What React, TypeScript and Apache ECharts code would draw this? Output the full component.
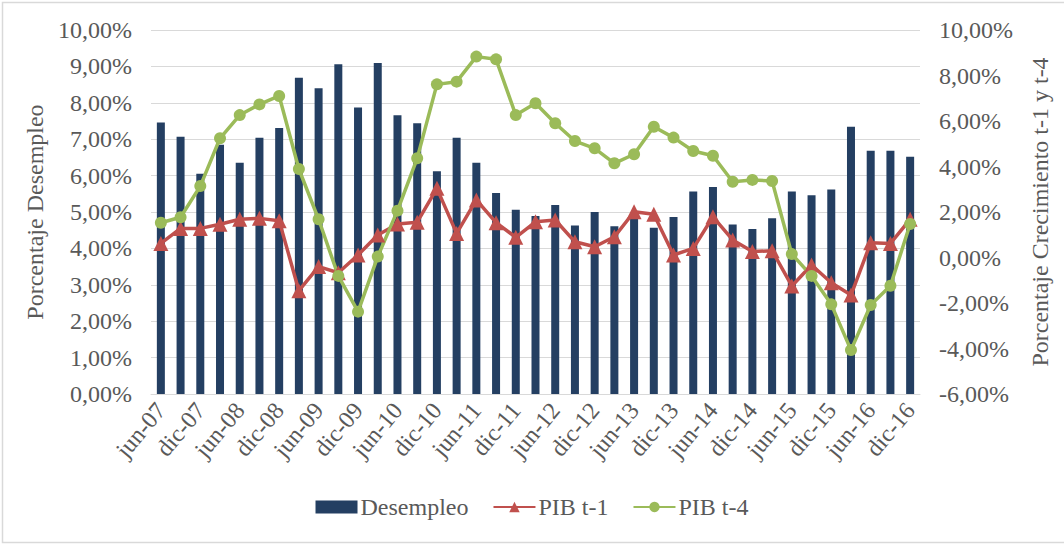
import React, { useEffect, useRef } from "react";
import * as echarts from "echarts";

const categories = [
  "jun-07", "sep-07", "dic-07", "mar-08", "jun-08", "sep-08", "dic-08", "mar-09",
  "jun-09", "sep-09", "dic-09", "mar-10", "jun-10", "sep-10", "dic-10", "mar-11",
  "jun-11", "sep-11", "dic-11", "mar-12", "jun-12", "sep-12", "dic-12", "mar-13",
  "jun-13", "sep-13", "dic-13", "mar-14", "jun-14", "sep-14", "dic-14", "mar-15",
  "jun-15", "sep-15", "dic-15", "mar-16", "jun-16", "sep-16", "dic-16",
];

const desempleo = [
  7.46, 7.07, 6.05, 6.85, 6.35, 7.04, 7.31, 8.69, 8.40, 9.06,
  7.87, 9.09, 7.66, 7.44, 6.12, 7.04, 6.35, 5.52, 5.06, 4.89,
  5.19, 4.63, 5.00, 4.61, 4.95, 4.57, 4.86, 5.56, 5.69, 4.66,
  4.53, 4.83, 5.56, 5.46, 5.62, 7.34, 6.68, 6.68, 6.52,
];

const pibT1 = [
  0.62, 1.28, 1.28, 1.46, 1.68, 1.72, 1.62, -1.46, -0.40, -0.67,
  0.11, 0.99, 1.47, 1.55, 3.04, 1.06, 2.53, 1.53, 0.89, 1.57,
  1.65, 0.69, 0.47, 0.91, 2.01, 1.90, 0.11, 0.40, 1.79, 0.77,
  0.26, 0.30, -1.25, -0.33, -1.11, -1.65, 0.65, 0.62, 1.68,
];

const pibT4 = [
  1.53, 1.77, 3.14, 5.24, 6.26, 6.73, 7.10, 3.89, 1.68, -0.81,
  -2.38, 0.04, 2.06, 4.36, 7.61, 7.73, 8.83, 8.71, 6.26, 6.78,
  5.90, 5.12, 4.80, 4.14, 4.54, 5.75, 5.27, 4.68, 4.47, 3.33,
  3.41, 3.36, 0.15, -0.81, -2.06, -4.07, -2.09, -1.24, 1.47,
];

const FONT = "Liberation Serif";
const TXT = "#595959";
const fmt = (v: number) => v.toFixed(2).replace(".", ",") + "%";

export default function App() {
  const ref = useRef<HTMLDivElement>(null);
  useEffect(() => {
    if (!ref.current) return;
    const chart = echarts.init(ref.current, undefined, { renderer: "svg" });
    chart.setOption({
      animation: false,
      backgroundColor: "#ffffff",
      textStyle: { fontFamily: FONT, color: TXT },
      graphic: [
        {
          type: "rect",
          shape: { x: 2.5, y: 2.5, width: 1063, height: 540 },
          style: { fill: "none", stroke: "#D9D9D9", lineWidth: 1.5 },
          silent: true,
        },
      ],
      grid: { left: 151, right: 144, top: 30, bottom: 150, containLabel: false },
      legend: {
        bottom: 20,
        left: "center",
        itemGap: 24,
        itemWidth: 42,
        itemHeight: 13,
        textStyle: { fontFamily: FONT, fontSize: 24, color: TXT, padding: [0, 0, 0, -2] },
        data: [
          { name: "Desempleo", icon: "rect" },
          { name: "PIB t-1" },
          { name: "PIB t-4" },
        ],
      },
      xAxis: {
        type: "category",
        data: categories,
        axisLine: { show: true, lineStyle: { color: "#D9D9D9", width: 1 } },
        axisTick: { show: false },
        axisLabel: {
          interval: 1,
          rotate: 50,
          margin: 12,
          fontFamily: FONT,
          fontSize: 24,
          color: TXT,
        },
      },
      yAxis: [
        {
          type: "value",
          min: 0,
          max: 10,
          interval: 1,
          name: "Porcentaje Desempleo",
          nameLocation: "middle",
          nameGap: 100,
          nameTextStyle: { fontFamily: FONT, fontSize: 24, color: TXT },
          axisLine: { show: false },
          axisTick: { show: false },
          splitLine: { show: true, lineStyle: { color: "#D9D9D9", width: 1 } },
          axisLabel: { formatter: fmt, fontFamily: FONT, fontSize: 24, color: TXT, margin: 19 },
        },
        {
          type: "value",
          min: -6,
          max: 10,
          interval: 2,
          name: "Porcentaje Crecimiento t-1 y t-4",
          nameLocation: "middle",
          nameGap: 108,
          nameRotate: 90,
          nameTextStyle: { fontFamily: FONT, fontSize: 24, color: TXT },
          axisLine: { show: false },
          axisTick: { show: false },
          splitLine: { show: false },
          axisLabel: { formatter: fmt, fontFamily: FONT, fontSize: 24, color: TXT, margin: 19 },
        },
      ],
      series: [
        {
          name: "Desempleo",
          type: "bar",
          data: desempleo,
          yAxisIndex: 0,
          barWidth: 8,
          itemStyle: { color: "#243F62" },
        },
        {
          name: "PIB t-1",
          type: "line",
          data: pibT1,
          yAxisIndex: 1,
          symbol: "triangle",
          symbolSize: 15,
          showAllSymbol: true,
          lineStyle: { color: "#C0504D", width: 3.5 },
          itemStyle: { color: "#C0504D" },
        },
        {
          name: "PIB t-4",
          type: "line",
          data: pibT4,
          yAxisIndex: 1,
          symbol: "circle",
          symbolSize: 12,
          showAllSymbol: true,
          lineStyle: { color: "#9BBB59", width: 3.5 },
          itemStyle: { color: "#9BBB59" },
        },
      ],
    });
    return () => chart.dispose();
  }, []);
  return (
    <div
      ref={ref}
      style={{ position: "fixed", left: 0, top: 0, width: 1064, height: 544 }}
    />
  );
}
